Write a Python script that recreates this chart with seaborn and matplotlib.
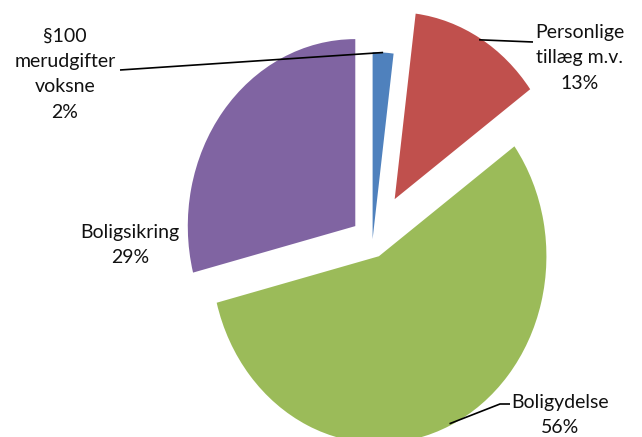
import numpy as np
import matplotlib
matplotlib.use("Agg")
import matplotlib.pyplot as plt
import seaborn as sns

# data
labels = ["§100\nmerudgifter\nvoksne", "Personlige\ntillæg m.v.", "Boligydelse", "Boligsikring"]
shares = [2, 13, 56, 29]
colors = ["#4F81BD", "#C0504D", "#9BBB59", "#8064A2"]
explode = [0.01, 0.26, 0.09, 0.13]

sns.set_theme(style="white")
plt.rcParams["font.family"] = ["Lato", "DejaVu Sans"]

W, H = 642, 437
fig = plt.figure(figsize=(W / 100, H / 100), dpi=100)
ax = fig.add_axes([0, 0, 1, 1])

wedges, _ = ax.pie(shares, colors=colors, explode=explode, startangle=90,
                   counterclock=False, radius=1, wedgeprops=dict(linewidth=0))

# pie centre in pixels and pixels per unit (the original chart is squeezed sideways)
cx, cy, sx, sy = 372.5, 241, 167.5, 187
ax.set_aspect("auto")
ax.set_xlim(-cx / sx, (W - cx) / sx)
ax.set_ylim(-(H - cy) / sy, cy / sy)
ax.axis("off")


def px(x, y):
    return (x - cx) / sx, (cy - y) / sy


def arc_mid(w, frac=1.0):
    t = np.deg2rad((w.theta1 + w.theta2) / 2)
    return w.center[0] + frac * w.r * np.cos(t), w.center[1] + frac * w.r * np.sin(t)


texts = [f"{l}\n{s}%" for l, s in zip(labels, shares)]
text_pos = [(65, 74), (580, 58), (560, 415), (130, 245)]
for t, (x, y) in zip(texts, text_pos):
    ax.text(*px(x, y), t, ha="center", va="center", fontsize=14,
            color="#111111", linespacing=1.6)

# leader lines
lk = dict(color="black", lw=1.2, solid_capstyle="butt")
bx, by = arc_mid(wedges[0])
ax.plot([px(120, 70)[0], bx], [px(120, 70)[1], by], **lk)
rx, ry = arc_mid(wedges[1], 0.99)
ax.plot([rx, px(533, 42)[0]], [ry, px(533, 42)[1]], **lk)
gx, gy = arc_mid(wedges[2], 0.99)
p1, p2 = px(500, 404), px(510, 404)
ax.plot([gx, p1[0], p2[0]], [gy, p1[1], p2[1]], **lk)

fig.savefig("out.png", dpi=100)
